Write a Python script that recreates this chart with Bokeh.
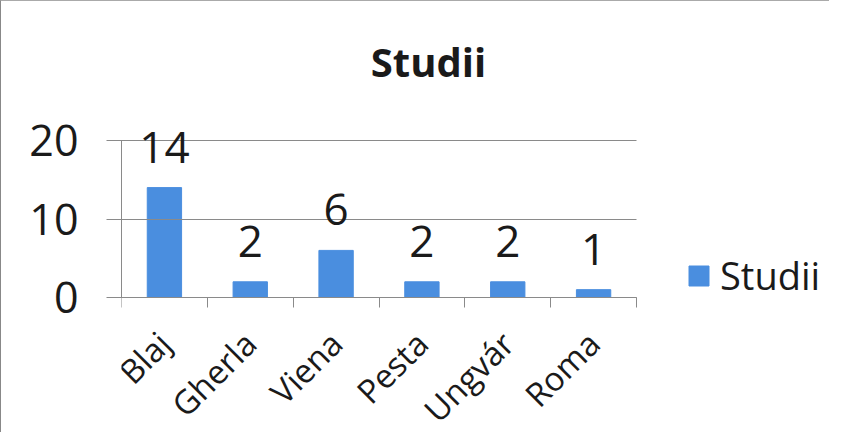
from bokeh.plotting import figure
from bokeh.models import (ColumnDataSource, Range1d, FixedTicker, LabelSet,
                          Label, Legend, LegendItem)
from bokeh.core.properties import value
from bokeh.embed import file_html
from bokeh.resources import INLINE

categories = ["Blaj", "Gherla", "Viena", "Pesta", "Ungvár", "Roma"]
values = [14, 2, 6, 2, 2, 1]
y_ticks = [0, 10, 20]
y_max = 20
series_name = "Studii"
title_text = "Studii"

FONT = "Open Sans"
BAR = "#4A8EDF"
GRID = "#8a8a8a"
TEXT = "#1a1a1a"

W, H = 829, 432
LEFT = 120                       # frame left offset in px
ZERO_FROM_BOTTOM = 136           # px from frame bottom up to the y=0 line
AXIS_W, AXIS_H = 515, 157        # px spanned by categories / by 0..y_max
n = len(categories)
frame_w = W - LEFT
frame_h = H
ppu = AXIS_H / y_max             # px per y unit
ppx = AXIS_W / n                 # px per category
y_start = -ZERO_FROM_BOTTOM / ppu
y_end = (frame_h - ZERO_FROM_BOTTOM) / ppu

xs = [i + 0.5 for i in range(n)]
src = ColumnDataSource(dict(x=xs, top=values, lab=[str(v) for v in values]))

p = figure(width=W, height=H, output_backend="svg", toolbar_location=None,
           x_range=Range1d(0, frame_w / ppx), y_range=Range1d(y_start, y_end),
           min_border_left=LEFT, min_border_right=0,
           min_border_top=0, min_border_bottom=0,
           styles={"border-left": "1px solid #888", "border-top": "1px solid #aaa"})
p.outline_line_color = None
p.background_fill_color = "white"
p.xgrid.grid_line_color = None
p.ygrid.grid_line_color = None

r = p.vbar(x="x", top="top", width=0.4, source=src, color=BAR)

# x axis pinned at y = 0
xa = p.xaxis[0]
xa.fixed_location = 0
xa.bounds = (0, n)
xa.ticker = FixedTicker(ticks=xs, minor_ticks=list(range(n + 1)))
xa.major_label_overrides = {x: c for x, c in zip(xs, categories)}
xa.major_label_orientation = 0.785398
xa.major_tick_line_color = None
xa.minor_tick_line_color = GRID
xa.minor_tick_in = 0
xa.minor_tick_out = 10
xa.axis_line_color = GRID
xa.major_label_text_font = FONT
xa.major_label_text_font_size = "33px"
xa.major_label_text_color = TEXT
xa.major_label_standoff = 30

# y axis (its long inward ticks act as the horizontal gridlines)
ya = p.yaxis[0]
ya.bounds = (0, y_max)
ya.ticker = FixedTicker(ticks=y_ticks, minor_ticks=[])
ya.major_tick_in = AXIS_W
ya.major_tick_out = 15
ya.major_tick_line_color = GRID
ya.axis_line_color = GRID
ya.major_label_text_font = FONT
ya.major_label_text_font_size = "43px"
ya.major_label_text_color = TEXT
ya.major_label_standoff = 28

labels = LabelSet(x="x", y="top", text="lab", source=src, y_offset=25,
                  text_align="center", text_baseline="alphabetic",
                  text_font=value(FONT), text_font_size=value("44px"),
                  text_color=value(TEXT))
p.add_layout(labels)

title = Label(x=(430 - 123) / ppx, y=(297 - 61) / ppu, text=title_text,
              text_align="center", text_baseline="alphabetic",
              text_font=FONT, text_font_size="40px", text_font_style="bold",
              text_color=TEXT)
p.add_layout(title)

legend = Legend(items=[LegendItem(label=series_name, renderers=[r])],
                location=(688 - 123, ZERO_FROM_BOTTOM + 297 - 288 - 13),
                glyph_width=25, glyph_height=25,
                label_height=25, label_standoff=9, padding=0, margin=0,
                border_line_color=None, background_fill_alpha=0,
                label_text_font=FONT, label_text_font_size="38px",
                label_text_color=TEXT, label_text_baseline="middle")
p.add_layout(legend, "center")

open("out.html", "w").write(file_html(p, INLINE))
